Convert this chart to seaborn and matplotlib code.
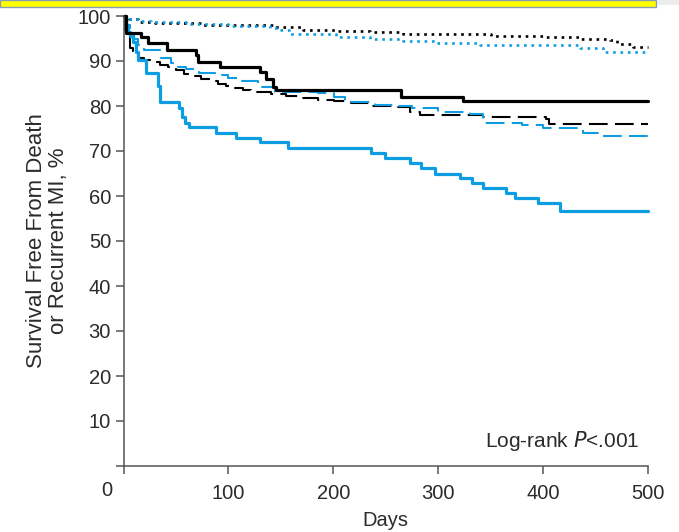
import matplotlib
matplotlib.use("Agg")
import matplotlib.pyplot as plt
import seaborn as sns
import pandas as pd
from matplotlib.patches import Rectangle

# ---- data ----
days_black_solid = [0, 2.7, 17, 23, 41, 69, 71, 92, 130, 136, 142.5, 145, 265, 324, 500]
surv_black_solid = [100, 96.3, 95.4, 93.9, 92.4, 91.3, 89.8, 88.7, 87.6, 86.1, 84.3, 83.5, 82.0, 81.1, 81.1]

days_blue_solid = [0, 2, 4, 6, 9, 12, 14, 21, 33, 35, 53, 56, 59, 62, 88.5, 107.5, 130, 157, 236,
                   249, 273, 284, 297, 321, 332, 343, 365, 373, 395.5, 416, 500]
surv_blue_solid = [100, 98, 96.5, 95.5, 94.3, 92, 90.2, 87.3, 84.5, 81.0, 79.5, 77.5, 76.3, 75.4, 74.1,
                   73.0, 71.9, 70.7, 69.6, 68.4, 67.3, 66.2, 65.0, 63.9, 62.8, 61.7, 60.6, 59.5, 58.4, 56.7, 56.7]

days_black_dashed = [0, 1, 3, 6, 9, 14, 20, 26, 35, 42, 50, 58, 66, 74, 82, 90, 98, 106, 114, 122,
                     141, 155, 166, 185, 201, 217, 236, 262, 273, 283, 300, 343, 403, 406, 500]
surv_black_dashed = [100, 97, 95.4, 93, 91.3, 90.6, 90.2, 89.8, 89.2, 88.7, 88.0, 87.2, 86.6, 86.1, 85.5,
                     85.0, 84.4, 83.9, 83.5, 83.2, 82.7, 82.2, 81.8, 81.4, 81.1, 80.6, 80.1, 79.8, 78.7,
                     78.1, 78.0, 77.6, 77.1, 76.0, 76.0]

days_blue_dashed = [0, 2, 6, 10, 14, 20, 30, 36, 45, 52, 60, 72, 87, 100, 112, 128, 144, 185, 201, 211,
                    240, 262, 275, 300, 330, 343, 380, 400, 438, 456, 500]
surv_blue_dashed = [100, 98, 96.1, 95, 93.6, 92.4, 92.4, 90.6, 89.5, 88.7, 88.2, 87.4, 86.9, 86.2, 85.6,
                    84.3, 83.2, 82.8, 82.1, 80.8, 80.2, 80.0, 79.6, 78.7, 78.3, 76.2, 75.8, 75.2, 73.9,
                    73.4, 73.4]

days_black_dotted = [0, 5, 14, 30, 42, 74, 106, 144, 171, 203, 235, 266, 300, 350, 400, 435, 464, 470, 486, 500]
surv_black_dotted = [100, 99.3, 98.7, 98.5, 98.4, 98.0, 97.9, 97.6, 97.0, 96.7, 96.5, 96.1, 95.9, 95.6,
                     95.3, 95.0, 94.7, 93.8, 93.2, 93.2]

days_blue_dotted = [0, 4, 15, 26, 60, 100, 140, 150, 158, 203, 235, 266, 300, 340, 413, 435, 457, 500]
surv_blue_dotted = [100, 99.3, 98.9, 98.7, 98.2, 97.8, 97.4, 97.0, 96.1, 95.4, 95.0, 94.5, 94.1, 93.6,
                    93.6, 93.0, 91.9, 91.9]

x_ticks = [0, 100, 200, 300, 400, 500]
x_ticklabels = ["", "100", "200", "300", "400", "500"]
y_ticks = [0, 10, 20, 30, 40, 50, 60, 70, 80, 90, 100]
y_ticklabels = [""] + [str(v) for v in y_ticks[1:]]

BLUE = "#0f9de2"
TXT = "#2b2b2b"
AX = "#555555"

sns.set_theme(style="white")
plt.rcParams["font.family"] = ["Liberation Sans", "DejaVu Sans"]

fig = plt.figure(figsize=(6.79, 5.32), dpi=100)
ax = fig.add_axes([123.5 / 679, 66 / 532, (648 - 123.5) / 679, 450 / 532])

series = [
    (days_black_dotted, surv_black_dotted, "black", (0, (1, 1.8)), 1.9),
    (days_blue_dotted, surv_blue_dotted, BLUE, (0, (1, 1.8)), 1.9),
    (days_black_dashed, surv_black_dashed, "black", (0, (9, 3.5)), 1.5),
    (days_blue_dashed, surv_blue_dashed, BLUE, (0, (9, 3.5)), 1.5),
    (days_blue_solid, surv_blue_solid, BLUE, "-", 2.3),
    (days_black_solid, surv_black_solid, "black", "-", 2.3),
]
for d, s, c, ls, lw in series:
    df = pd.DataFrame({"Days": d, "Survival": s})
    sns.lineplot(data=df, x="Days", y="Survival", ax=ax, color=c, linestyle=ls,
                 linewidth=lw, drawstyle="steps-post", sort=False, clip_on=False)

ax.set_xlim(0, 500)
ax.set_ylim(0, 100)
ax.set_xticks(x_ticks)
ax.set_xticklabels(x_ticklabels)
ax.set_yticks(y_ticks)
ax.set_yticklabels(y_ticklabels)
for side in ["top", "right"]:
    ax.spines[side].set_visible(False)
for side in ["left", "bottom"]:
    ax.spines[side].set_color(AX)
    ax.spines[side].set_linewidth(1.1)
ax.tick_params(axis="both", which="major", bottom=True, left=True, direction="out",
               length=6, width=1.1, color=AX, labelsize=14.5, labelcolor=TXT, pad=3)
ax.tick_params(axis="x", pad=7)
ax.set_xlabel("Days", fontsize=14.5, color=TXT, labelpad=6)
ax.set_ylabel("Survival Free From Death\nor Recurrent MI, %", fontsize=16, color=TXT,
              labelpad=6, linespacing=1.05)
ax.grid(False)

ax.text(492, 4.2, "Log-rank $\\it{P}$<.001", ha="right", va="baseline", fontsize=15, color=TXT)
fig.text(107 / 679, 1 - 490 / 532, "0", ha="center", va="center", fontsize=14.5, color=TXT)

# yellow banner at top
fig.patches.append(Rectangle((0, 1 - 7 / 532), 656 / 679, 7 / 532, transform=fig.transFigure,
                             facecolor="#ffff00", edgecolor="#8a9cb5", linewidth=1.0, zorder=5))
fig.patches.append(Rectangle((658 / 679, 1 - 5 / 532), 21 / 679, 5 / 532, transform=fig.transFigure,
                             facecolor="#ececec", edgecolor="none", zorder=5))

fig.savefig("out.png", dpi=100)
